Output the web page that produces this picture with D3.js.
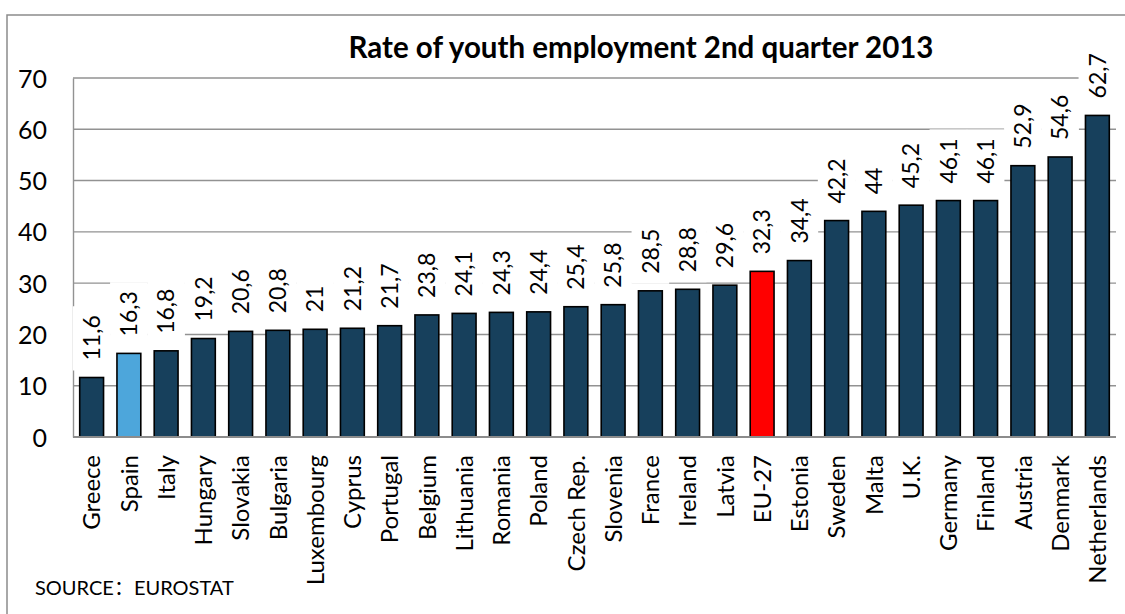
<!DOCTYPE html>
<html>
<head>
<meta charset="utf-8">
<script src="https://cdn.jsdelivr.net/npm/d3@7"></script>
<style>
  html, body { margin: 0; padding: 0; background: #fff; }
  svg { display: block; }
  text { font-family: Lato, "Noto Sans", sans-serif; fill: #000; }
</style>
</head>
<body>
<svg id="chart" width="1125" height="614"></svg>
<script>
// Youth employment rate by country, Q2 2013 (%)
const countries = ["Greece", "Spain", "Italy", "Hungary", "Slovakia", "Bulgaria", "Luxembourg",
  "Cyprus", "Portugal", "Belgium", "Lithuania", "Romania", "Poland", "Czech Rep.", "Slovenia",
  "France", "Ireland", "Latvia", "EU-27", "Estonia", "Sweden", "Malta", "U.K.", "Germany",
  "Finland", "Austria", "Denmark", "Netherlands"];
const rates = [11.6, 16.3, 16.8, 19.2, 20.6, 20.8, 21, 21.2, 21.7, 23.8, 24.1, 24.3, 24.4, 25.4,
  25.8, 28.5, 28.8, 29.6, 32.3, 34.4, 42.2, 44, 45.2, 46.1, 46.1, 52.9, 54.6, 62.7];
const yTicks = [0, 10, 20, 30, 40, 50, 60, 70];
const highlighted = ["Spain", "EU-27"];
const highlightColors = ["#4da6db", "#ff0000"];

const title = "Rate of youth employment 2nd quarter 2013";
const sourceParts = ["SOURCE", "\uFF1A", "EUROSTAT"];

const data = countries.map((c, i) => ({ country: c, value: rates[i] }));
const baseColor = "#17405c";
const colorOf = c => {
  const k = highlighted.indexOf(c);
  return k >= 0 ? highlightColors[k] : baseColor;
};
const fmt = v => String(v).replace(".", ",");

const svg = d3.select("#chart");
const plot = { left: 73, right: 1116, top: 78, bottom: 437 };

// outer frame
svg.append("rect")
  .attr("x", 7).attr("y", 15)
  .attr("width", 1140).attr("height", 640)
  .attr("fill", "none").attr("stroke", "#8c8c8c").attr("stroke-width", 1.5);

const x = d3.scaleBand()
  .domain(countries)
  .range([plot.left, plot.right])
  .paddingInner(0.36)
  .paddingOuter(0.18);

const y = d3.scaleLinear()
  .domain([0, 70])
  .range([plot.bottom, plot.top]);

// horizontal gridlines
svg.append("g")
  .selectAll("line")
  .data(yTicks.filter(t => t > 0))
  .join("line")
  .attr("x1", plot.left).attr("x2", plot.right)
  .attr("y1", d => y(d)).attr("y2", d => y(d))
  .attr("stroke", "#929292").attr("stroke-width", 1.4);

// y axis
const yAxis = d3.axisLeft(y).tickValues(yTicks).tickSize(0).tickPadding(26);
const gy = svg.append("g")
  .attr("transform", `translate(${plot.left},0)`)
  .call(yAxis);
gy.select(".domain").attr("stroke", "#929292").attr("stroke-width", 1.4);
gy.selectAll("text")
  .style("font-size", "25px")
  .attr("dy", "0.36em");

// bars
svg.append("g")
  .selectAll("rect")
  .data(data)
  .join("rect")
  .attr("x", d => x(d.country))
  .attr("y", d => y(d.value))
  .attr("width", x.bandwidth())
  .attr("height", d => y(0) - y(d.value))
  .attr("fill", d => colorOf(d.country))
  .attr("stroke", "#000").attr("stroke-width", 1.6);

// x axis line
svg.append("line")
  .attr("x1", plot.left).attr("x2", plot.right)
  .attr("y1", y(0)).attr("y2", y(0))
  .attr("stroke", "#8c8c8c").attr("stroke-width", 2);

// category labels, rotated
const xAxis = d3.axisBottom(x).tickSize(0).tickPadding(0);
const gx = svg.append("g")
  .attr("transform", `translate(0,${plot.bottom})`)
  .call(xAxis);
gx.select(".domain").remove();
gx.selectAll("text")
  .style("font-size", "24px")
  .attr("text-anchor", "end")
  .attr("transform", "rotate(-90)")
  .attr("x", -18)
  .attr("y", 0)
  .attr("dy", "0.36em");

// value labels on white boxes above the bars
const labelGap = 17;
const labels = svg.append("g");
const items = labels.selectAll("g")
  .data(data)
  .join("g")
  .attr("transform", d => `translate(${x(d.country) + x.bandwidth() / 2},${y(d.value) - labelGap})`);
const boxes = items.append("rect").attr("fill", "#fff");
const texts = items.append("text")
  .attr("transform", "rotate(-90)")
  .attr("text-anchor", "start")
  .attr("dy", "0.36em")
  .style("font-size", "23px")
  .text(d => fmt(d.value));
texts.each(function (d, i) {
  const len = this.getComputedTextLength();
  d3.select(boxes.nodes()[i])
    .attr("x", -18.8).attr("width", 37.6)
    .attr("y", -len - 9)
    .attr("height", len + 9 + 10);
});

// title
svg.append("text")
  .attr("x", 641).attr("y", 58)
  .attr("text-anchor", "middle")
  .style("font-size", "29.5px")
  .style("font-weight", "bold")
  .text(title);

// source note
const src = svg.append("text")
  .attr("x", 35).attr("y", 595)
  .style("font-size", "20px");
src.append("tspan").text(sourceParts[0]);
src.append("tspan").style("font-family", "'Noto Sans CJK SC'").text(sourceParts[1]);
src.append("tspan").text(sourceParts[2]);
</script>
</body>
</html>
